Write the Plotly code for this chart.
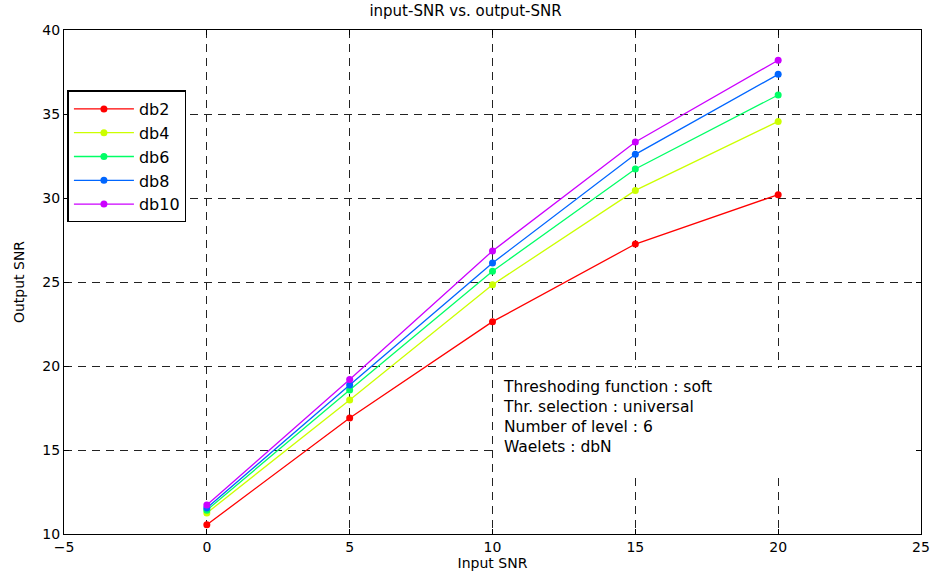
import plotly.graph_objects as go

input_snr = [0, 5, 10, 15, 20]
series_names = ["db2", "db4", "db6", "db8", "db10"]
db2 = [10.55, 16.9, 22.64, 27.26, 30.2]
db4 = [11.25, 17.98, 24.84, 30.45, 34.56]
db6 = [11.42, 18.57, 25.64, 31.73, 36.13]
db8 = [11.55, 18.87, 26.13, 32.6, 37.36]
db10 = [11.72, 19.2, 26.85, 33.33, 38.2]
colors = ["#ff0000", "#ccff00", "#00ff66", "#0066ff", "#cc00ff"]
x_ticks = [-5, 0, 5, 10, 15, 20, 25]
y_ticks = [10, 15, 20, 25, 30, 35, 40]
info_lines = ["Threshoding function : soft", "Thr. selection : universal",
              "Number of level : 6", "Waelets : dbN"]

fig = go.Figure()
for name, vals, c in zip(series_names, [db2, db4, db6, db8, db10], colors):
    fig.add_trace(go.Scatter(x=input_snr, y=vals, name=name, mode="lines+markers",
                             line=dict(color=c, width=1.3),
                             marker=dict(color=c, size=7)))

font = "DejaVu Sans, Liberation Sans, Arial, sans-serif"
axis_common = dict(showline=True, linecolor="black", linewidth=1, mirror="ticks",
                   ticks="inside", ticklen=5, tickcolor="black", automargin=False,
                   showgrid=True, gridcolor="#222222", griddash="8px,6px", gridwidth=1,
                   zeroline=False, tickfont=dict(size=14, color="black", family=font))
fig.update_xaxes(range=[-5, 25], tickvals=x_ticks, title=dict(text="Input SNR", standoff=3,
                 font=dict(size=14, color="black", family=font)), **axis_common)
fig.update_yaxes(range=[10, 40], tickvals=y_ticks, title=dict(text="Output SNR", standoff=14,
                 font=dict(size=14, color="black", family=font)), **axis_common)

# white background box behind the annotation text (hides the grid there)
fig.add_shape(type="rect", xref="x", yref="y", x0=10.05, x1=24.95, y0=13.4, y1=19.88,
              fillcolor="white", line=dict(width=0), layer="between")

fig.add_annotation(x=10.3, y=19.4, xref="x", yref="y", xanchor="left", yanchor="top",
                   text="<br>".join(info_lines), showarrow=False, align="left",
                   font=dict(size=15.5, color="black", family=font))

fig.update_layout(
    width=931, height=581,
    margin=dict(l=64, r=10, t=30, b=47),
    paper_bgcolor="white", plot_bgcolor="white",
    title=dict(text="input-SNR vs. output-SNR", x=0.5, xanchor="center", y=0.99, yanchor="top",
               font=dict(size=15, color="black", family=font)),
    legend=dict(x=0.004, y=0.88, xanchor="left", yanchor="top", bgcolor="white",
                bordercolor="black", borderwidth=1.5, itemwidth=60,
                font=dict(size=16, color="black", family=font), tracegroupgap=0),
    showlegend=True,
)
fig.write_html("out.html")
